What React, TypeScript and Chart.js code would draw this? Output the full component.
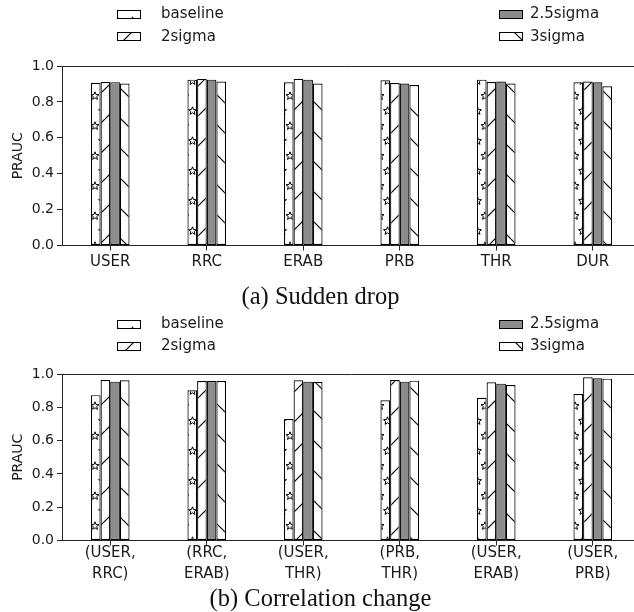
import React, { useEffect, useRef } from 'react';
import { Chart, registerables } from 'chart.js';

Chart.register(...registerables);

// ---------------- data ----------------
const seriesLabels = ['baseline', '2sigma', '2.5sigma', '3sigma'];

const dropCategories = ['USER', 'RRC', 'ERAB', 'PRB', 'THR', 'DUR'];
const dropBaseline = [0.907, 0.924, 0.909, 0.92, 0.924, 0.909];
const drop2Sigma = [0.911, 0.928, 0.928, 0.905, 0.911, 0.913];
const drop25Sigma = [0.91, 0.924, 0.924, 0.902, 0.913, 0.909];
const drop3Sigma = [0.902, 0.913, 0.902, 0.894, 0.902, 0.887];

const corrCategories = [
  ['(USER,', 'RRC)'],
  ['(RRC,', 'ERAB)'],
  ['(USER,', 'THR)'],
  ['(PRB,', 'THR)'],
  ['(USER,', 'ERAB)'],
  ['(USER,', 'PRB)'],
];
const corrBaseline = [0.873, 0.902, 0.729, 0.842, 0.857, 0.88];
const corr2Sigma = [0.964, 0.958, 0.962, 0.964, 0.95, 0.98];
const corr25Sigma = [0.954, 0.958, 0.954, 0.954, 0.942, 0.974];
const corr3Sigma = [0.962, 0.958, 0.952, 0.96, 0.934, 0.972];

const yMin = 0;
const yMax = 1;
const yStep = 0.2;
const yTitle = 'PRAUC';

// ---------------- patterns ----------------
function drawStar(g: CanvasRenderingContext2D, cx: number, cy: number, R: number, r: number) {
  g.beginPath();
  for (let i = 0; i < 10; i++) {
    const a = -Math.PI / 2 + (i * Math.PI) / 5;
    const rad = i % 2 === 0 ? R : r;
    const x = cx + rad * Math.cos(a);
    const y = cy + rad * Math.sin(a);
    if (i === 0) g.moveTo(x, y);
    else g.lineTo(x, y);
  }
  g.closePath();
  g.stroke();
}

function makeStarPattern(ctx: CanvasRenderingContext2D) {
  const c = document.createElement('canvas');
  c.width = 15;
  c.height = 30;
  const g = c.getContext('2d')!;
  g.fillStyle = '#ffffff';
  g.fillRect(0, 0, 15, 30);
  g.strokeStyle = '#000000';
  g.lineWidth = 1;
  const pts = [
    [0, 0],
    [15, 0],
    [0, 30],
    [15, 30],
    [7.5, 15],
  ];
  pts.forEach(([x, y]) => drawStar(g, x, y, 4.2, 1.8));
  return ctx.createPattern(c, 'repeat')!;
}

function makeLinePattern(ctx: CanvasRenderingContext2D, forward: boolean) {
  const c = document.createElement('canvas');
  c.width = 30;
  c.height = 30;
  const g = c.getContext('2d')!;
  g.fillStyle = '#ffffff';
  g.fillRect(0, 0, 30, 30);
  g.strokeStyle = '#000000';
  g.lineWidth = 1.2;
  g.beginPath();
  if (forward) {
    [0, 30, 60].forEach((k) => {
      g.moveTo(-5, k + 5);
      g.lineTo(k + 5, -5);
    });
  } else {
    [-30, 0, 30].forEach((k) => {
      g.moveTo(-5, -5 - k);
      g.lineTo(35, 35 - k);
    });
  }
  g.stroke();
  return ctx.createPattern(c, 'repeat')!;
}

// ---------------- panel ----------------
type PanelCfg = {
  labels: any[];
  series: number[][];
  caption: string;
  top: number;
  height: number;
  padTop: number;
  xAxisH: number;
  xPad: number;
  titlePadTop: number;
  titlePadBottom: number;
  legendRows: number[];
  phase: { star: number[]; fwd: number[]; back: number[] };
};

const CANVAS_W = 641;
const AXIS_COLOR = '#262626';
const TEXT_COLOR = '#1a1a1a';

function Panel({ cfg }: { cfg: PanelCfg }) {
  const ref = useRef<HTMLCanvasElement | null>(null);

  useEffect(() => {
    const canvas = ref.current!;
    const ctx = canvas.getContext('2d')!;
    const star = makeStarPattern(ctx);
    const fwd = makeLinePattern(ctx, true);
    const back = makeLinePattern(ctx, false);
    const fills: any[] = [star, fwd, '#8c8c8c', back];

    const place = (p: CanvasPattern, a: any, off: number[]) => {
      p.setTransform(new DOMMatrix().translate(Math.round(a.left + off[0]), Math.round(a.bottom + off[1])));
    };

    const phasePlugin = {
      id: 'hatchPhase',
      beforeDatasetsDraw(chart: any) {
        const a = chart.chartArea;
        chart.ctx.imageSmoothingEnabled = false;
        place(star, a, cfg.phase.star);
        place(fwd, a, cfg.phase.fwd);
        place(back, a, cfg.phase.back);
      },
    };

    const spinePlugin = {
      id: 'topSpine',
      afterDatasetsDraw(chart: any) {
        const { ctx: c, chartArea: a } = chart;
        c.save();
        c.strokeStyle = AXIS_COLOR;
        c.lineWidth = 1;
        const y = Math.round(a.top) + 0.5;
        c.beginPath();
        c.moveTo(a.left, y);
        c.lineTo(a.right, y);
        c.stroke();
        c.restore();
      },
    };

    const legendPlugin = {
      id: 'paperLegend',
      afterDraw(chart: any) {
        const { ctx: c, chartArea: a } = chart;
        const swatchX = [117, 499];
        const textX = [161, 530];
        c.save();
        chart.data.datasets.forEach((ds: any, i: number) => {
          const col = Math.floor(i / 2);
          const row = i % 2;
          const y = a.top - cfg.legendRows[row];
          const top = Math.round(y - 4.5);
          c.fillStyle = ds.backgroundColor;
          c.fillRect(swatchX[col], top, 24, 9);
          c.strokeStyle = '#000000';
          c.lineWidth = 1;
          c.strokeRect(swatchX[col] + 0.5, top + 0.5, 23, 8);
          c.fillStyle = TEXT_COLOR;
          c.font = '15px "DejaVu Sans"';
          c.textBaseline = 'middle';
          c.textAlign = 'left';
          c.fillText(ds.label, textX[col], y);
        });
        c.restore();
      },
    };

    const chart = new Chart(canvas, {
      type: 'bar',
      data: {
        labels: cfg.labels,
        datasets: cfg.series.map((s, i) => ({
          label: seriesLabels[i],
          data: s,
          backgroundColor: fills[i],
          borderColor: '#000000',
          borderWidth: 1.2,
          borderSkipped: false,
        })),
      },
      options: {
        responsive: false,
        animation: false,
        devicePixelRatio: 1,
        layout: { padding: { top: cfg.padTop, left: 0, right: 0, bottom: 0 } },
        datasets: { bar: { categoryPercentage: 0.4, barPercentage: 1.0 } },
        plugins: {
          legend: { display: false },
          tooltip: { enabled: false },
          title: {
            display: true,
            position: 'bottom',
            text: cfg.caption,
            color: '#111111',
            font: { family: '"Liberation Serif", "Times New Roman", serif', size: 24.5, weight: 'normal', lineHeight: 1 },
            padding: { top: cfg.titlePadTop, bottom: cfg.titlePadBottom },
          },
        },
        scales: {
          x: {
            type: 'category',
            offset: true,
            grid: { display: true, drawOnChartArea: false, drawTicks: true, tickLength: 5, offset: false, color: AXIS_COLOR },
            border: { display: true, color: AXIS_COLOR, width: 1 },
            ticks: {
              color: TEXT_COLOR,
              font: { family: '"DejaVu Sans"', size: 15, lineHeight: 1.39 },
              padding: cfg.xPad,
              maxRotation: 0,
              autoSkip: false,
            },
            afterFit: (s: any) => {
              s.height = cfg.xAxisH;
            },
          },
          y: {
            min: yMin,
            max: yMax,
            grid: { display: true, drawOnChartArea: false, drawTicks: true, tickLength: 5, color: AXIS_COLOR },
            border: { display: true, color: AXIS_COLOR, width: 1 },
            ticks: {
              stepSize: yStep,
              color: TEXT_COLOR,
              font: { family: '"DejaVu Sans"', size: 14 },
              padding: 3,
              callback: (v: any) => Number(v).toFixed(1),
            },
            title: {
              display: true,
              text: yTitle,
              color: TEXT_COLOR,
              font: { family: '"DejaVu Sans"', size: 14 },
              padding: { top: 9.6, bottom: 0 },
            },
            afterFit: (s: any) => {
              s.width = 62;
            },
          },
        },
      } as any,
      plugins: [phasePlugin, spinePlugin, legendPlugin],
    });

    return () => chart.destroy();
  }, [cfg]);

  return (
    <canvas
      ref={ref}
      width={CANVAS_W}
      height={cfg.height}
      style={{ position: 'absolute', left: 0, top: cfg.top, width: CANVAS_W, height: cfg.height }}
    />
  );
}

const dropCfg: PanelCfg = {
  labels: dropCategories,
  series: [dropBaseline, drop2Sigma, drop25Sigma, drop3Sigma],
  caption: '(a) Sudden drop',
  top: 0,
  height: 312,
  padTop: 66,
  xAxisH: 26,
  xPad: 1,
  titlePadTop: 13.9,
  titlePadBottom: 2.1,
  legendRows: [51.7, 29.3],
  phase: { star: [33.2, 0], fwd: [42.5, -7], back: [62.2, -3.3] },
};

const corrCfg: PanelCfg = {
  labels: corrCategories,
  series: [corrBaseline, corr2Sigma, corr25Sigma, corr3Sigma],
  caption: '(b) Correlation change',
  top: 306,
  height: 306,
  padTop: 68,
  xAxisH: 44,
  xPad: -3,
  titlePadTop: 2.5,
  titlePadBottom: 0.5,
  legendRows: [50, 28],
  phase: { star: [33.2, -15], fwd: [42.5, -20], back: [62.2, -20] },
};

export default function App() {
  return (
    <div
      style={{
        position: 'fixed',
        left: 0,
        top: 0,
        width: 634,
        height: 612,
        overflow: 'hidden',
        background: '#ffffff',
      }}
    >
      <Panel cfg={dropCfg} />
      <Panel cfg={corrCfg} />
    </div>
  );
}
